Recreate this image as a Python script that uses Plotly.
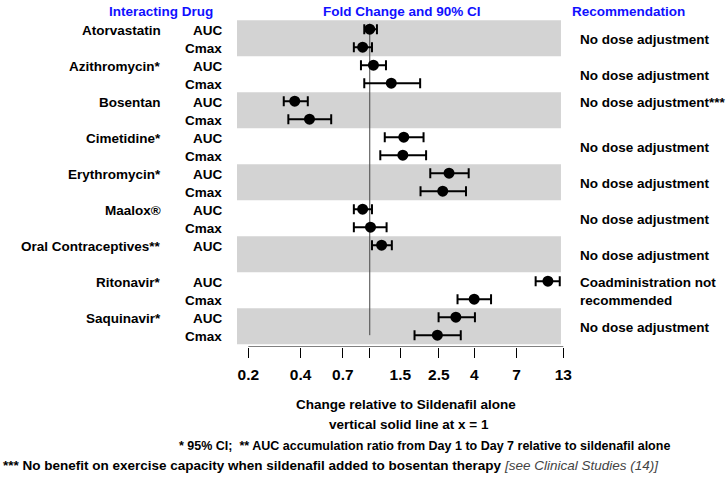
import math
import plotly.graph_objects as go

# ---------------- data ----------------
drugs = ["Atorvastatin", "Azithromycin*", "Bosentan", "Cimetidine*", "Erythromycin*",
         "Maalox®", "Oral Contraceptives**", "Ritonavir*", "Saquinavir*"]
recommendations = ["No dose adjustment", "No dose adjustment", "No dose adjustment***",
                   "No dose adjustment", "No dose adjustment", "No dose adjustment",
                   "No dose adjustment", "Coadministration not<br>recommended",
                   "No dose adjustment"]
# parameters per drug (Oral Contraceptives only AUC)
params = [["AUC", "Cmax"], ["AUC", "Cmax"], ["AUC", "Cmax"], ["AUC", "Cmax"],
          ["AUC", "Cmax"], ["AUC", "Cmax"], ["AUC"], ["AUC", "Cmax"], ["AUC", "Cmax"]]
# fold change estimates and CI bounds, in the same order as params
estimate = [[1.00, 0.91], [1.05, 1.33], [0.37, 0.45], [1.57, 1.55], [2.86, 2.63],
            [0.91, 1.01], [1.17], [10.6, 3.99], [3.13, 2.45]]
ci_low = [[0.93, 0.81], [0.89, 0.93], [0.32, 0.34], [1.22, 1.15], [2.23, 1.96],
          [0.81, 0.81], [1.03], [9.01, 3.20], [2.49, 1.81]]
ci_high = [[1.10, 1.03], [1.24, 1.95], [0.44, 0.60], [2.04, 2.11], [3.71, 3.58],
           [1.03, 1.25], [1.34], [12.4, 4.99], [4.03, 3.34]]

tick_vals = [0.2, 0.4, 0.7, 1, 1.5, 2.5, 4, 7, 13]
tick_text = ["0.2", "0.4", "0.7", "", "1.5", "2.5", "4", "7", "13"]

# ---------------- layout constants ----------------
W, H = 726, 480
PL, PT = 237, 20             # plot area left/top in window pixels
PLOT_W, PLOT_H = 339, 327
ML, MT = PL, PT
MR, MB = W - ML - PLOT_W, H - MT - PLOT_H
X_MIN, X_MAX = 0.1722, 15.38
ROW0_PX, ROW_PX = 29.2, 18.0
Y_TOP = (PT - ROW0_PX) / ROW_PX
Y_BOT = (PT + PLOT_H - ROW0_PX) / ROW_PX
FONT = "Liberation Sans, Arial, sans-serif"
BLUE = "#1010FF"
BAND_END = 12.6


def px2x(px):
    return (px - PL) / PLOT_W


def py2y(py):
    return 1 - (py - PT) / PLOT_H


def row2y(r):
    return py2y(ROW0_PX + ROW_PX * r)


def val2paper(v):
    return (math.log10(v) - math.log10(X_MIN)) / (math.log10(X_MAX) - math.log10(X_MIN))


xs, ys, ep, em = [], [], [], []
annotations = []
shapes = []
row = 0
for i, d in enumerate(drugs):
    first = row
    if i % 2 == 0:
        shapes.append(dict(type="rect", xref="paper", yref="y", x0=0, x1=val2paper(BAND_END),
                           y0=first - 0.5, y1=first + 1.5, fillcolor="#D3D3D3",
                           line=dict(width=0), layer="below"))
    annotations.append(dict(text="<b>%s</b>" % d, x=px2x(163), y=row2y(first + 0.08),
                            xanchor="right"))
    for j, p in enumerate(params[i]):
        r = first + j
        annotations.append(dict(text="<b>%s</b>" % p, x=px2x(224), y=row2y(r + 0.08),
                                xanchor="right"))
        xs.append(estimate[i][j])
        ys.append(r)
        ep.append(ci_high[i][j] - estimate[i][j])
        em.append(estimate[i][j] - ci_low[i][j])
    ry = first if i == 2 else first + 0.5
    annotations.append(dict(text="<b>%s</b>" % recommendations[i], x=px2x(577.5),
                            y=row2y(ry + 0.08), xanchor="left", align="left"))
    row += 2

last_row = row - 1

# headers and footnotes
annotations += [
    dict(text="<b>Interacting Drug</b>", x=px2x(160.7), y=py2y(11.7), font=dict(color=BLUE)),
    dict(text="<b>Fold Change and 90% CI</b>", x=px2x(401.5), y=py2y(11.7), font=dict(color=BLUE)),
    dict(text="<b>Recommendation</b>", x=px2x(628), y=py2y(11.7), font=dict(color=BLUE)),
    dict(text="<b>Change relative to Sildenafil alone</b>", x=px2x(406), y=py2y(404)),
    dict(text="<b>vertical solid line at x = 1</b>", x=px2x(408.5), y=py2y(424.7)),
    dict(text="<b>* 95% CI;  ** AUC accumulation ratio from Day 1 to Day 7 relative to sildenafil alone</b>",
         x=px2x(424.5), y=py2y(445.7), font=dict(size=12.5)),
    dict(text="<b>*** No benefit on exercise capacity when sildenafil added to bosentan therapy</b> "
              "<span style='color:#444444'><i>[see Clinical Studies (14)]</i></span>",
         x=px2x(1), y=py2y(466), xanchor="left"),
]
for a in annotations:
    a.setdefault("xref", "paper")
    a.setdefault("yref", "paper")
    a.setdefault("showarrow", False)
    a.setdefault("xanchor", "center")
    a.setdefault("yanchor", "middle")
    f = a.setdefault("font", {})
    f.setdefault("family", FONT)
    f.setdefault("size", 13.5)
    f.setdefault("color", "black")

fig = go.Figure()
# reference line at x = 1
fig.add_trace(go.Scatter(x=[1, 1], y=[-0.3, last_row], mode="lines",
                         line=dict(color="#444444", width=1), hoverinfo="skip",
                         showlegend=False))
# axis line from first to last tick
fig.add_trace(go.Scatter(x=[tick_vals[0], tick_vals[-1]], y=[Y_BOT, Y_BOT], mode="lines",
                         line=dict(color="black", width=1), cliponaxis=False,
                         hoverinfo="skip", showlegend=False))
# estimates with CI
fig.add_trace(go.Scatter(x=xs, y=ys, mode="markers",
                         marker=dict(color="black", size=11, symbol="circle"),
                         error_x=dict(type="data", symmetric=False, array=ep, arrayminus=em,
                                      color="black", thickness=2, width=5),
                         showlegend=False, cliponaxis=False))

fig.update_layout(
    width=W, height=H,
    margin=dict(l=ML, r=MR, t=MT, b=MB, pad=0),
    paper_bgcolor="white", plot_bgcolor="white",
    shapes=shapes, annotations=annotations,
    xaxis=dict(type="log", range=[math.log10(X_MIN), math.log10(X_MAX)],
               tickvals=tick_vals, ticktext=["<b>%s</b>" % t if t else "" for t in tick_text],
               ticks="outside", ticklen=10, tickwidth=1, tickcolor="black",
               ticklabelstandoff=3,
               showgrid=False, zeroline=False, showline=False,
               tickfont=dict(family=FONT, size=15.5, color="black")),
    yaxis=dict(range=[Y_BOT, Y_TOP], showgrid=False, zeroline=False, showline=False,
               showticklabels=False, ticks=""),
)

# remove the default page margin so the 726x480 figure fills the window
fig.write_html("out.html",
               config={"displayModeBar": False, "staticPlot": True},
               post_script="document.body.style.margin='0px';document.body.style.overflow='hidden';")
